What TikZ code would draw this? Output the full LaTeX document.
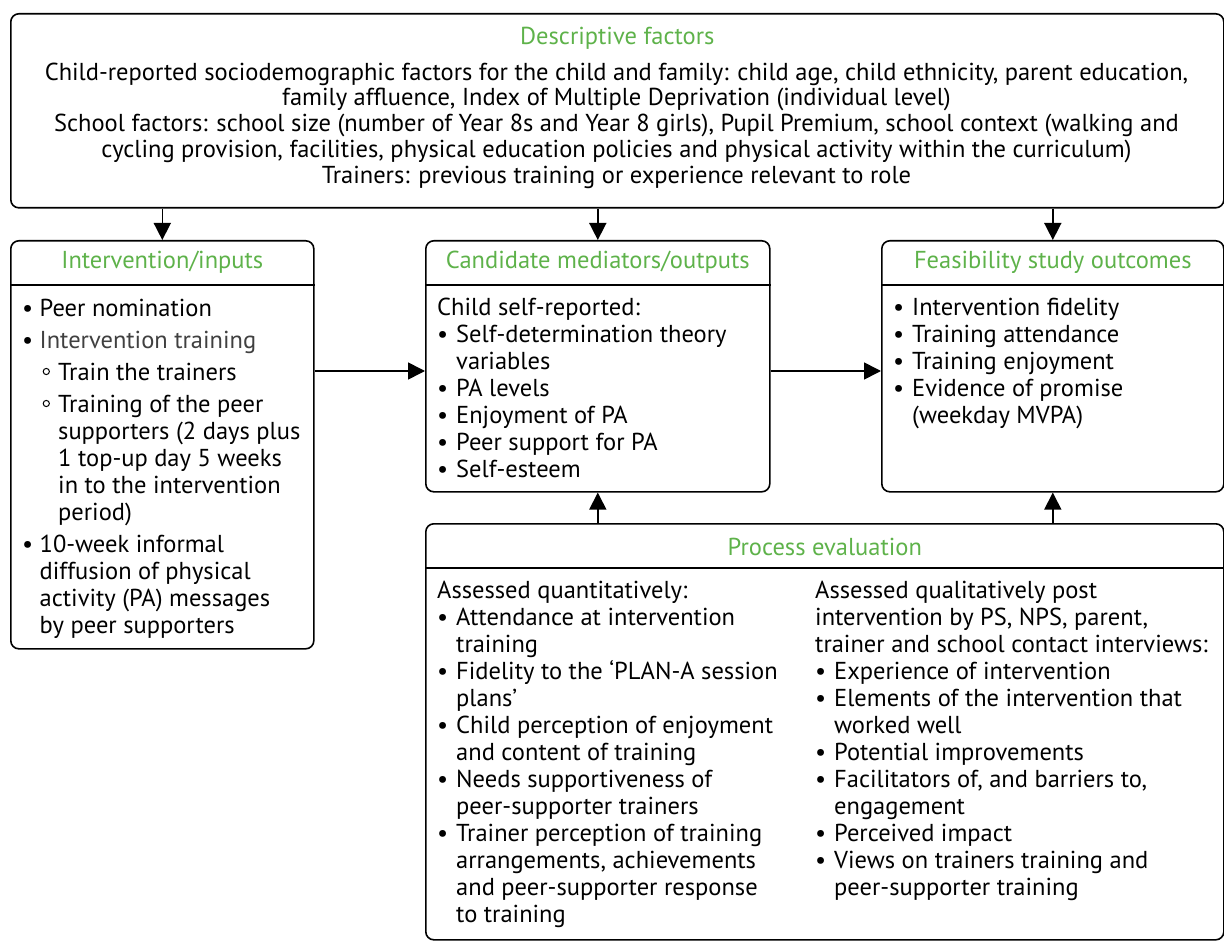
\documentclass[tikz,border=0pt]{standalone}
\usepackage{fontspec}
\setmainfont{PT Sans}
\usetikzlibrary{arrows.meta}
\definecolor{headgreen}{RGB}{94,178,74}
\tikzset{
  box/.style={draw, line width=1.6pt, rounded corners=8pt, anchor=north west, inner sep=0pt},
  head/.style={text=headgreen, anchor=base, inner sep=0pt},
  body/.style={anchor=north west, inner sep=0pt},
  link/.style={line width=1.6pt, -{Triangle[length=17pt,width=17pt]}},
}
\newcommand\bu{\textbullet}
\newcommand\ci{\hspace{3pt}\raisebox{5pt}{\tikz\draw[line width=1pt] (0,0) circle (3.1pt);}}
\begin{document}
\begin{tikzpicture}[x=1pt, y=-1pt]

  \fontsize{24.5}{27}\selectfont
  \useasboundingbox (0,0) rectangle (1224,941);

  %% boxes
  \node[box, minimum width=1213, minimum height=194] (desc) at (10,13) {};
  \node[box, minimum width=303, minimum height=408] (inp) at (10,240) {};
  \node[box, minimum width=344, minimum height=251] (med) at (425,240) {};
  \node[box, minimum width=342, minimum height=251] (out) at (881,240) {};
  \node[box, minimum width=798, minimum height=416] (proc) at (425,523) {};

  \foreach \b in {inp, med, out, proc}
    \draw[line width=1.6pt] ([yshift=-45pt]\b.north west) -- ([yshift=-45pt]\b.north east);

  %% titles
  \node[head] (deschead) at (desc.north |- 0,45) {Descriptive factors};
  \node[head] (inphead) at (inp.north |- 0,269) {Intervention/inputs};
  \node[head] (medhead) at (med.north |- 0,269) {Candidate mediators/outputs};
  \node[head] (outhead) at (out.north |- 0,269) {Feasibility study outcomes};
  \node[head] (prochead) at (proc.north |- 0,555) {Process evaluation};

  \node[anchor=north, inner sep=0pt] (desctext) at (616.5,62) {\fontsize{24.5}{25.75}\selectfont
    \begin{tabular}{@{}c@{}}
      Child-reported sociodemographic factors for the child and family: child age, child ethnicity, parent education,\\
      family affluence, Index of Multiple Deprivation (individual level)\\
      School factors: school size (number of Year 8s and Year 8 girls), Pupil Premium, school context (walking and\\
      cycling provision, facilities, physical education policies and physical activity within the curriculum)\\
      Trainers: previous training or experience relevant to role
    \end{tabular}};

  \node[body] (inptext) at (22,297) {%
    \begin{tabular}{@{}p{17.5pt}@{}p{18.5pt}@{}l@{}}
      \bu & \multicolumn{2}{@{}l@{}}{Peer nomination}\\[5pt]
      \bu & \multicolumn{2}{@{}l@{}}{\color{black!75}Intervention training}\\[5pt]
      & \ci & Train the trainers\\[5pt]
      & \ci & Training of the peer\\
      & & supporters (2 days plus\\
      & & 1 top-up day 5 weeks\\
      & & in to the intervention\\
      & & period)\\[5pt]
      \bu & \multicolumn{2}{@{}l@{}}{10-week informal}\\
      & \multicolumn{2}{@{}l@{}}{diffusion of physical}\\
      & \multicolumn{2}{@{}l@{}}{activity (PA) messages}\\
      & \multicolumn{2}{@{}l@{}}{by peer supporters}
    \end{tabular}};

  \node[body] (medtext) at (437,296) {%
    \begin{tabular}{@{}p{19pt}@{}l@{}}
      \multicolumn{2}{@{}l@{}}{Child self-reported:}\\
      \bu & Self-determination theory\\
      & variables\\
      \bu & PA levels\\
      \bu & Enjoyment of PA\\
      \bu & Peer support for PA\\
      \bu & Self-esteem
    \end{tabular}};

  \node[body] (outtext) at (893,296) {%
    \begin{tabular}{@{}p{19pt}@{}l@{}}
      \bu & Intervention fidelity\\
      \bu & Training attendance\\
      \bu & Training enjoyment\\
      \bu & Evidence of promise\\
      & (weekday MVPA)
    \end{tabular}};

  \node[body] (proctextl) at (437,579) {%
    \begin{tabular}{@{}p{19pt}@{}l@{}}
      \multicolumn{2}{@{}l@{}}{Assessed quantitatively:}\\
      \bu & Attendance at intervention\\
      & training\\
      \bu & Fidelity to the ‘PLAN-A session\\
      & plans’\\
      \bu & Child perception of enjoyment\\
      & and content of training\\
      \bu & Needs supportiveness of\\
      & peer-supporter trainers\\
      \bu & Trainer perception of training\\
      & arrangements, achievements\\
      & and peer-supporter response\\
      & to training
    \end{tabular}};

  \node[body] (proctextr) at (815,579) {%
    \begin{tabular}{@{}p{19pt}@{}l@{}}
      \multicolumn{2}{@{}l@{}}{Assessed qualitatively post}\\
      \multicolumn{2}{@{}l@{}}{intervention by PS, NPS, parent,}\\
      \multicolumn{2}{@{}l@{}}{trainer and school contact interviews:}\\
      \bu & Experience of intervention\\
      \bu & Elements of the intervention that\\
      & worked well\\
      \bu & Potential improvements\\
      \bu & Facilitators of, and barriers to,\\
      & engagement\\
      \bu & Perceived impact\\
      \bu & Views on trainers training and\\
      & peer-supporter training
    \end{tabular}};

  %% connectors
  \coordinate (mid) at (0,371);
  \draw[link] (inp.north |- desc.south) -- (inp.north);
  \draw[link] (med.north |- desc.south) -- (med.north);
  \draw[link] (out.north |- desc.south) -- (out.north);
  \draw[link] (inp.east |- mid) -- (mid -| med.west); %% inputs -> mediators
  \draw[link] (med.east |- mid) -- (mid -| out.west); %% mediators -> outcomes
  \draw[link] (med.south |- proc.north) -- (med.south);
  \draw[link] (out.south |- proc.north) -- (out.south);
\end{tikzpicture}
\end{document}
